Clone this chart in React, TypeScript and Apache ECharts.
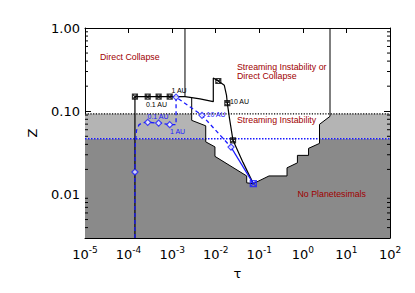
import React, { useEffect, useRef } from 'react';
import * as echarts from 'echarts';

// ---- axis ranges & ticks ----
const tauRange = [1e-5, 1e2];
const zRange = [0.003, 1];
const yTickLabels: Record<string, string> = { '-2': '0.01', '-1': '0.10', '0': '1.00' };
const yMinorTicks = [
  0.004, 0.005, 0.006, 0.007, 0.008, 0.009,
  0.02, 0.03, 0.04, 0.05, 0.06, 0.07, 0.08, 0.09,
  0.2, 0.3, 0.4, 0.5, 0.6, 0.7, 0.8, 0.9,
];

// ---- region boundaries ----
const siThresholdZ = 0.093;      // black dotted line
const blueThresholdZ = 0.0468;   // blue dotted line
const collapseBoundaryTau = 1.97e-3;
const rightBoundaryTau = 4.2;

// white (streaming-instability) region outline, [tau, Z]
const whiteRegion: number[][] = [
  [2.81e-3, 0.1457],
  [2.81e-3, 0.0777],
  [5.9e-3, 0.0668],
  [5.9e-3, 0.0429],
  [9.6e-3, 0.0373],
  [9.6e-3, 0.0287],
  [0.0514, 0.0167],
  [0.0514, 0.0138],
  [0.0729, 0.0135],
  [0.167, 0.0167],
  [0.433, 0.0167],
  [0.433, 0.0209],
  [0.75, 0.024],
  [0.75, 0.0295],
  [1.35, 0.0295],
  [1.35, 0.0358],
  [2.41, 0.0411],
  [2.41, 0.0696],
  [4.2, 0.0868],
];

// ---- tracks ----
const blackTrack: number[][] = [
  [1.4e-4, 0.003],
  [1.4e-4, 0.15],
  [2.75e-4, 0.15],
  [4.9e-4, 0.15],
  [8.8e-4, 0.15],
  [1.97e-3, 0.15],
  [2.81e-3, 0.1457],
  [4.36e-3, 0.1405],
  [8.8e-3, 0.1304],
  [8.8e-3, 0.2506],
  [0.01147, 0.2307],
  [0.01575, 0.2048],
  [0.0177, 0.1553],
  [0.01845, 0.1255],
  [0.0207, 0.0822],
  [0.02493, 0.0447],
  [0.0423, 0.0243],
  [0.0729, 0.0135],
];
const blackMarkers: number[][] = [
  [1.4e-4, 0.15],
  [2.75e-4, 0.15],
  [4.9e-4, 0.15],
  [8.8e-4, 0.15],
  [0.01147, 0.2307],
  [0.01845, 0.1255],
  [0.02493, 0.0447],
];
const blueDashedTrack: number[][] = [
  [1.4e-4, 0.003],
  [1.4e-4, 0.0186],
  [1.42e-4, 0.0389],
  [1.52e-4, 0.0589],
  [1.73e-4, 0.0686],
  [2.03e-4, 0.0725],
  [2.75e-4, 0.0736],
  [4.9e-4, 0.0721],
  [8.8e-4, 0.069],
  [1.23e-3, 0.069],
  [1.23e-3, 0.148],
  [4.85e-3, 0.0893],
  [0.02244, 0.0371],
];
const blueSolidTrack: number[][] = [
  [0.02244, 0.0371],
  [0.0729, 0.0135],
];
const blueMarkers: number[][] = [
  [1.4e-4, 0.0186],
  [2.75e-4, 0.0736],
  [4.9e-4, 0.0721],
  [8.8e-4, 0.069],
  [1.23e-3, 0.148],
  [4.85e-3, 0.0893],
  [0.02244, 0.0371],
];
const endMarker: number[][] = [[0.0729, 0.0135]];

// ---- annotation texts ----
const regionLabels = ['Direct Collapse', 'Streaming Instability or', 'Direct Collapse', 'Streaming Instability', 'No Planetesimals'];
const blackAuLabels = ['1 AU', '0.1 AU', '10 AU'];
const blueAuLabels = ['0.1 AU', '1 AU', '10 AU'];

const DARK = '#8a8a8a';
const LIGHT = '#b4b4b4';
const RED = '#a00000';
const BLUE = '#1a1aff';

export default function App() {
  const ref = useRef<HTMLDivElement>(null);
  useEffect(() => {
    if (!ref.current) return;
    const chart = echarts.init(ref.current, undefined, { renderer: 'svg' });
    const [tMin, tMax] = tauRange;
    const [zMin, zMax] = zRange;
    const fills = [
      { pts: [[tMin, zMin], [tMax, zMin], [tMax, blueThresholdZ], [tMin, blueThresholdZ]], color: DARK },
      { pts: [[tMin, blueThresholdZ], [tMax, blueThresholdZ], [tMax, siThresholdZ], [tMin, siThresholdZ]], color: LIGHT },
      { pts: [...whiteRegion, [rightBoundaryTau, 0.15]], color: '#ffffff' },
    ];
    const whiteOutline = [...whiteRegion, [rightBoundaryTau, zMax]];
    const collapseLine = [[collapseBoundaryTau, 0.15], [collapseBoundaryTau, zMax]];

    const xAxisBase = {
      type: 'log', logBase: 10, min: tMin, max: tMax,
      axisLine: { show: true, lineStyle: { color: '#000', width: 1 } },
      axisTick: { show: true, inside: true, length: 5, lineStyle: { color: '#000', width: 1 } },
      splitLine: { show: false },
    };
    const yAxisBase = {
      type: 'log', logBase: 10, min: zMin, max: zMax,
      axisLine: { show: true, lineStyle: { color: '#000', width: 1 } },
      axisTick: { show: true, inside: true, length: 6, lineStyle: { color: '#000', width: 1 } },
      splitLine: { show: false },
    };

    const txt = (text: string, x: number, y: number, color: string, size: number) => ({
      type: 'text', x, y, z: 100,
      style: { text, fill: color, fontSize: size, fontFamily: 'Liberation Sans, Arial, sans-serif', verticalAlign: 'middle', align: 'left' },
    });

    const option: any = {
      animation: false,
      backgroundColor: '#fff',
      grid: { left: 85, right: 25, top: 28, bottom: 55, show: false },
      xAxis: [
        {
          ...xAxisBase, position: 'bottom',
          name: 'τ', nameLocation: 'middle', nameGap: 29,
          nameTextStyle: { fontSize: 13, color: '#000', fontFamily: 'DejaVu Sans' },
          axisLabel: {
            margin: 7,
            formatter: (v: number) => `{b|10}{s|${Math.round(Math.log10(v))}}`,
            rich: {
              b: { fontSize: 13, lineHeight: 18, fontFamily: 'DejaVu Sans', color: '#000' },
              s: { fontSize: 9, lineHeight: 8, verticalAlign: 'top', fontFamily: 'DejaVu Sans', color: '#000' },
            },
          },
        },
        { ...xAxisBase, position: 'top', axisLabel: { show: false } },
      ],
      yAxis: [
        {
          ...yAxisBase, position: 'left',
          name: 'Z', nameLocation: 'middle', nameGap: 46, nameRotate: 90,
          nameTextStyle: { fontSize: 13, color: '#000', fontFamily: 'DejaVu Sans' },
          axisLabel: {
            margin: 5, fontSize: 13, fontFamily: 'DejaVu Sans', color: '#000',
            formatter: (v: number) => {
              const e = Math.log10(v);
              if (Math.abs(e - Math.round(e)) > 1e-6) return '';
              return yTickLabels[String(Math.round(e))] ?? '';
            },
          },
        },
        { ...yAxisBase, position: 'right', axisLabel: { show: false } },
      ],
      series: [
        {
          type: 'custom', name: 'fills', z: 1, silent: true,
          data: fills.map(() => [1, 0.1]),
          renderItem: (params: any, api: any) => {
            const f = fills[params.dataIndex];
            return { type: 'polygon', shape: { points: f.pts.map((p) => api.coord(p)) }, style: { fill: f.color, stroke: 'none' } };
          },
        },
        {
          type: 'custom', name: 'minorTicks', z: 5, silent: true,
          data: yMinorTicks.map((z) => [1, z]),
          renderItem: (params: any, api: any) => {
            const z = yMinorTicks[params.dataIndex];
            const l = api.coord([tMin, z]);
            const r = api.coord([tMax, z]);
            return {
              type: 'group', children: [
                { type: 'line', shape: { x1: l[0], y1: l[1], x2: l[0] + 3, y2: l[1] }, style: { stroke: '#000', lineWidth: 1 } },
                { type: 'line', shape: { x1: r[0] - 3, y1: r[1], x2: r[0], y2: r[1] }, style: { stroke: '#000', lineWidth: 1 } },
              ],
            };
          },
        },
        {
          type: 'line', z: 3, symbol: 'none', silent: true,
          data: [[tMin, siThresholdZ], [tMax, siThresholdZ]],
          lineStyle: { color: '#000', width: 1.2, type: [1.2, 1.5] },
        },
        {
          type: 'line', z: 3, symbol: 'none', silent: true,
          data: [[tMin, blueThresholdZ], [tMax, blueThresholdZ]],
          lineStyle: { color: BLUE, width: 1.5, type: [1.5, 1.5] },
        },
        {
          type: 'line', z: 4, symbol: 'none', silent: true, data: whiteOutline,
          lineStyle: { color: '#000', width: 1 },
        },
        {
          type: 'line', z: 4, symbol: 'none', silent: true, data: collapseLine,
          lineStyle: { color: '#000', width: 1 },
        },
        {
          type: 'line', z: 4, symbol: 'none', silent: true, data: blackTrack,
          lineStyle: { color: '#000', width: 1.2 },
        },
        {
          type: 'line', z: 6, symbol: 'none', silent: true, data: blueDashedTrack,
          lineStyle: { color: BLUE, width: 1.3, type: [4, 3] },
        },
        {
          type: 'line', z: 6, symbol: 'none', silent: true, data: blueSolidTrack,
          lineStyle: { color: BLUE, width: 1.2 },
        },
        {
          type: 'scatter', z: 7, silent: true, data: blackMarkers,
          symbol: 'path://M0 0H10V10H0ZM0 0L10 10M10 0L0 10', symbolSize: 5,
          itemStyle: { color: 'none', borderColor: '#000', borderWidth: 1.2 },
        },
        {
          type: 'scatter', z: 8, silent: true, data: blueMarkers,
          symbol: 'diamond', symbolSize: 6,
          itemStyle: { color: '#ffffff', borderColor: BLUE, borderWidth: 1.2 },
        },
        {
          type: 'scatter', z: 8, silent: true, data: endMarker,
          symbol: 'path://M0 0H10V10H0ZM0 0L10 10M10 0L0 10', symbolSize: 6,
          itemStyle: { color: 'none', borderColor: BLUE, borderWidth: 1.3 },
        },
      ],
      graphic: [
        txt(regionLabels[0], 100, 57, RED, 8.8),
        txt(regionLabels[1], 237, 67, RED, 8.8),
        txt(regionLabels[2], 237, 76, RED, 8.8),
        txt(regionLabels[3], 237, 119.5, RED, 8.8),
        txt(regionLabels[4], 297.5, 194, RED, 8.8),
        txt(blackAuLabels[0], 171.5, 90.5, '#000', 7),
        txt(blackAuLabels[1], 146, 104, '#000', 7),
        txt(blackAuLabels[2], 230, 101, '#000', 7),
        txt(blueAuLabels[0], 147.5, 116, BLUE, 7),
        txt(blueAuLabels[1], 170, 131, BLUE, 7),
        txt(blueAuLabels[2], 206.5, 114.5, BLUE, 7),
      ],
    };
    chart.setOption(option);
    return () => chart.dispose();
  }, []);
  return <div ref={ref} style={{ position: 'absolute', left: 0, top: 0, width: 415, height: 293 }} />;
}
